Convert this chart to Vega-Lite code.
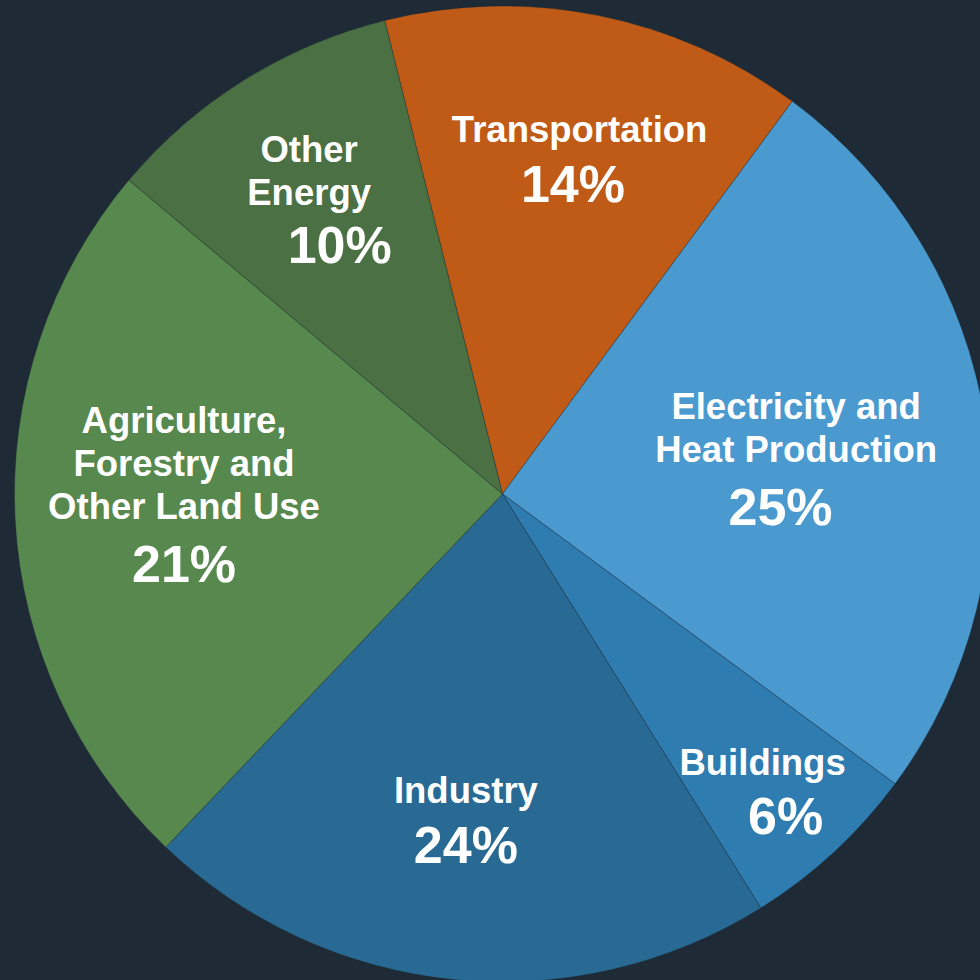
{
  "$schema": "https://vega.github.io/schema/vega-lite/v6.json",
  "autosize": {"type": "fit", "contains": "padding"},
  "width": 980,
  "height": 980,
  "padding": {"left": 25, "top": 8, "right": 0, "bottom": 0},
  "background": "#1e2a35",
  "config": {
    "view": {"stroke": null},
    "text": {"font": "Liberation Sans", "fontWeight": "bold", "fill": "#ffffff", "align": "center", "baseline": "alphabetic", "lineBreak": "\n", "lineHeight": 43}
  },
  "data": {
    "values": [
      {"rank": 1, "sector": "Transportation", "value": 14, "name": "Transportation", "pct": "14%"},
      {"rank": 2, "sector": "Electricity and Heat Production", "value": 25, "name": "Electricity and\nHeat Production", "pct": "25%"},
      {"rank": 3, "sector": "Buildings", "value": 6, "name": "Buildings", "pct": "6%"},
      {"rank": 4, "sector": "Industry", "value": 21, "name": "Industry", "pct": "24%"},
      {"rank": 5, "sector": "Agriculture, Forestry and Other Land Use", "value": 24, "name": "Agriculture,\nForestry and\nOther Land Use", "pct": "21%"},
      {"rank": 6, "sector": "Other Energy", "value": 10, "name": "Other\nEnergy", "pct": "10%"}
    ]
  },
  "encoding": {
    "theta": {"field": "value", "type": "quantitative", "stack": true, "scale": {"range": [-0.2438, 6.0394]}},
    "order": {"field": "rank", "type": "quantitative"}
  },
  "layer": [
    {
      "mark": {"type": "arc", "outerRadius": 488, "stroke": "#1e2a35", "strokeOpacity": 0.35, "strokeWidth": 1},
      "encoding": {
        "color": {
          "field": "sector", "type": "nominal", "legend": null,
          "scale": {
            "domain": ["Transportation", "Electricity and Heat Production", "Buildings", "Industry", "Agriculture, Forestry and Other Land Use", "Other Energy"],
            "range": ["#bf5b16", "#4a9ad0", "#2f7cb1", "#286a94", "#57884e", "#4a7043"]
          }
        }
      }
    },
    {"mark": {"type": "text", "radius": 360, "dx": 7, "dy": 1, "fontSize": 36.5},
     "encoding": {"text": {"condition": {"test": "datum.sector === 'Transportation'", "field": "name"}, "value": ""}}},
    {"mark": {"type": "text", "radius": 300, "dx": 12, "dy": 2, "fontSize": 52},
     "encoding": {"text": {"condition": {"test": "datum.sector === 'Transportation'", "field": "pct"}, "value": ""}}},
    {"mark": {"type": "text", "radius": 302, "dx": -5, "dy": -30, "fontSize": 36.5},
     "encoding": {"text": {"condition": {"test": "datum.sector === 'Electricity and Heat Production'", "field": "name"}, "value": ""}}},
    {"mark": {"type": "text", "radius": 270, "dx": 11, "dy": 71, "fontSize": 52},
     "encoding": {"text": {"condition": {"test": "datum.sector === 'Electricity and Heat Production'", "field": "pct"}, "value": ""}}},
    {"mark": {"type": "text", "radius": 383, "dx": 0, "dy": 0, "fontSize": 36.5},
     "encoding": {"text": {"condition": {"test": "datum.sector === 'Buildings'", "field": "name"}, "value": ""}}},
    {"mark": {"type": "text", "radius": 442, "dx": -17, "dy": 16, "fontSize": 52},
     "encoding": {"text": {"condition": {"test": "datum.sector === 'Buildings'", "field": "pct"}, "value": ""}}},
    {"mark": {"type": "text", "radius": 311, "dx": -5, "dy": 0, "fontSize": 36.5},
     "encoding": {"text": {"condition": {"test": "datum.sector === 'Industry'", "field": "name"}, "value": ""}}},
    {"mark": {"type": "text", "radius": 370, "dx": 1, "dy": 1, "fontSize": 52},
     "encoding": {"text": {"condition": {"test": "datum.sector === 'Industry'", "field": "pct"}, "value": ""}}},
    {"mark": {"type": "text", "radius": 315, "dx": -4, "dy": -78, "fontSize": 36.5},
     "encoding": {"text": {"condition": {"test": "datum.sector === 'Agriculture, Forestry and Other Land Use'", "field": "name"}, "value": ""}}},
    {"mark": {"type": "text", "radius": 323, "dx": 4, "dy": 70, "fontSize": 52},
     "encoding": {"text": {"condition": {"test": "datum.sector === 'Agriculture, Forestry and Other Land Use'", "field": "pct"}, "value": ""}}},
    {"mark": {"type": "text", "radius": 386, "dx": 11, "dy": -5, "fontSize": 36.5},
     "encoding": {"text": {"condition": {"test": "datum.sector === 'Other Energy'", "field": "name"}, "value": ""}}},
    {"mark": {"type": "text", "radius": 283, "dx": -13, "dy": 9, "fontSize": 52},
     "encoding": {"text": {"condition": {"test": "datum.sector === 'Other Energy'", "field": "pct"}, "value": ""}}}
  ]
}
